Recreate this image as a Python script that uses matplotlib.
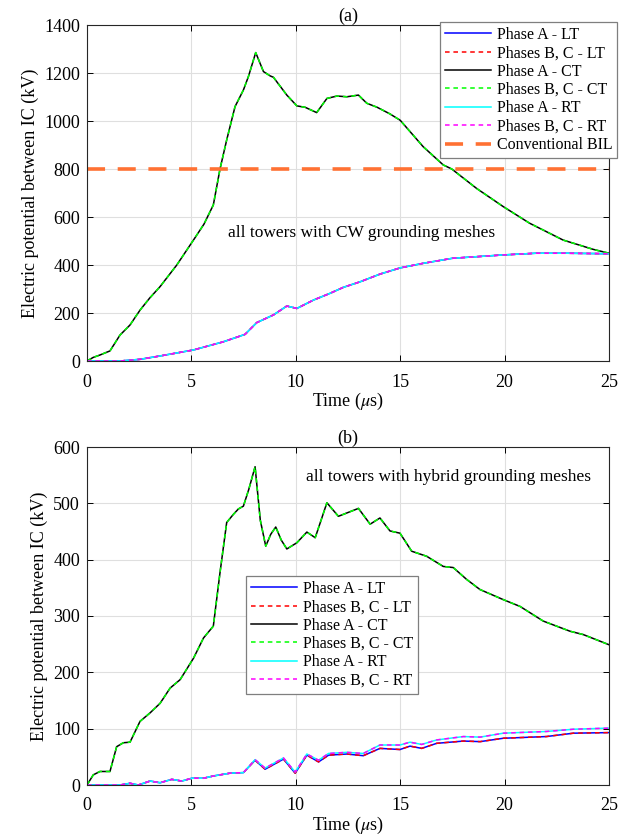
import numpy as np
import matplotlib
matplotlib.use("Agg")
import matplotlib.pyplot as plt

plt.rcParams["font.family"] = ["Liberation Serif", "DejaVu Serif"]
plt.rcParams["mathtext.fontset"] = "stix"

# (a) todas las torres con malla CW
a_ct_t = [0, 0.3, 0.62, 1.1, 1.58, 2.06, 2.54, 3.0, 3.5, 4.3, 5.1, 5.6, 6.05, 6.37, 6.69,
          7.09, 7.49, 7.73, 8.08, 8.45, 8.77, 8.93, 9.57, 10.05, 10.45, 11.0, 11.49,
          11.97, 12.45, 13.0, 13.4, 13.9, 14.5, 15.0, 16.1, 17.06, 17.47, 18.66, 19.94,
          21.2, 22.8, 24.25, 25]
a_ct_v = [0, 15, 25, 42, 108, 150, 212, 262, 310, 400, 504, 570, 650, 800, 921,
          1060, 1129, 1185, 1285, 1206, 1188, 1182, 1108, 1063, 1057, 1035, 1094,
          1104, 1101, 1108, 1074, 1057, 1030, 1003, 893, 817, 800, 719, 643,
          574, 504, 465, 449]

a_low_t = [0, 1.58, 2.54, 3.5, 5.1, 6.53, 7.57, 8.13, 8.93, 9.57, 10.05, 10.85, 11.64,
           12.28, 13.08, 14.03, 15.0, 16.1, 17.5, 19.94, 21.5, 23.0, 25]
a_low_v = [0, 0, 7, 21, 46, 80, 111, 160, 192, 229, 219, 254, 282,
           307, 330, 362, 388, 407, 428, 442, 449, 449, 447]

bil_kv = 800

# (b) todas las torres con malla hibrida
b_ct_t = [0, 0.3, 0.62, 1.1, 1.42, 1.74, 2.06, 2.54, 3.02, 3.5, 3.98, 4.46, 5.1, 5.58,
          6.05, 6.37, 6.69, 7.0, 7.25, 7.49, 7.75, 8.05, 8.3, 8.56, 8.8, 9.04, 9.3,
          9.57, 10.05, 10.53, 10.93, 11.49, 12.04, 13.0, 13.56, 14.03, 14.51, 14.99,
          15.55, 16.27, 17.06, 17.54, 18.18, 18.82, 19.94, 20.74, 21.85, 23.13, 23.77, 25]
b_ct_v = [0, 18, 24, 24, 68, 75, 76, 113, 128, 145, 172, 187, 225, 261,
          282, 377, 466, 480, 490, 495, 525, 565, 470, 424, 445, 458, 435,
          419, 430, 449, 439, 501, 477, 491, 463, 474, 451, 447,
          415, 406, 388, 386, 365, 347, 329, 317, 291, 273, 267, 249]

b_low_t = [0, 1.58, 2.06, 2.46, 3.02, 3.5, 4.06, 4.54, 5.02, 5.58, 6.05, 6.85, 7.49, 8.05,
           8.53, 9.41, 9.97, 10.53, 11.09, 11.57, 12.45, 13.23, 14.03, 14.99, 15.47,
           16.03, 16.75, 18.03, 18.83, 19.94, 22.0, 23.3, 25]
b_lt_v = [0, 0, 3, 0, 7, 4, 10, 7, 12, 12, 16, 21, 22, 44,
          28, 46, 21, 53, 41, 53, 55, 52, 65, 63, 69,
          65, 74, 78, 77, 83, 86, 92, 93]
b_rt_v = [0, 0, 3, 0, 7, 4, 10, 7, 12, 12, 16, 21, 22, 45,
          30, 48, 23, 55, 44, 56, 58, 56, 71, 71, 76,
          72, 80, 86, 85, 92, 95, 99, 101]

etiquetas = ["Phase A - LT", "Phases B, C - LT", "Phase A - CT",
             "Phases B, C - CT", "Phase A - RT", "Phases B, C - RT"]
colores = ["#0000ff", "#ff0000", "#000000", "#00ff00", "#00ffff", "#ff00ff"]
estilos = ["-", (0, (3, 2.5)), "-", (0, (3, 2.5)), "-", (0, (3, 2.5))]

fig = plt.figure(figsize=(6.33, 8.36), dpi=100)
ax1 = fig.add_axes([87 / 633, 1 - 361 / 836, 522 / 633, 336 / 836])
ax2 = fig.add_axes([87 / 633, 1 - 785 / 836, 522 / 633, 338 / 836])


def preparar_ejes(ax, ymax, paso):
    ax.set_xlim(0, 25)
    ax.set_ylim(0, ymax)
    ax.set_xticks(np.arange(0, 26, 5))
    ax.set_yticks(np.arange(0, ymax + 1, paso))
    ax.grid(True, color="#dfdfdf", linewidth=0.8)
    ax.set_axisbelow(True)
    ax.tick_params(direction="in", top=True, right=True, labelsize=13, length=4,
                   width=0.7)
    ax.tick_params(axis="x", pad=9)
    ax.tick_params(axis="y", pad=5)
    for s in ax.spines.values():
        s.set_linewidth(0.8)
        s.set_color("#262626")
    ax.set_xlabel(r"Time ($\mu$s)", fontsize=13, labelpad=0)
    ax.set_ylabel("Electric potential between IC (kV)", fontsize=13, labelpad=4)


def leyenda(ax, loc, ancla):
    leg = ax.legend(loc=loc, bbox_to_anchor=ancla, bbox_transform=fig.transFigure,
                    fontsize=11.5, fancybox=False, framealpha=1, edgecolor="#7f7f7f",
                    borderaxespad=0, handlelength=2.9, handletextpad=0.35,
                    labelspacing=0.15, borderpad=0.3)
    leg.get_frame().set_linewidth(0.9)


# grafico (a)
series_a = [(a_low_t, a_low_v), (a_low_t, a_low_v), (a_ct_t, a_ct_v),
            (a_ct_t, a_ct_v), (a_low_t, a_low_v), (a_low_t, a_low_v)]
for (t, v), lab, c, ls in zip(series_a, etiquetas, colores, estilos):
    ax1.plot(t, v, color=c, linestyle=ls, linewidth=1.1, label=lab)
ax1.axhline(bil_kv, color="#ff7133", linestyle=(0, (5, 3.5)), linewidth=2.6,
            label="Conventional BIL")
preparar_ejes(ax1, 1400, 200)
ax1.set_title("(a)", fontsize=13, pad=3)
ax1.text(6.74, 533, "all towers with CW grounding meshes", fontsize=12.5,
         va="center", ha="left")
leyenda(ax1, "upper right", (617 / 633, 1 - 22 / 836))

# grafico (b)
series_b = [(b_low_t, b_lt_v), (b_low_t, b_lt_v), (b_ct_t, b_ct_v),
            (b_ct_t, b_ct_v), (b_low_t, b_rt_v), (b_low_t, b_rt_v)]
for (t, v), lab, c, ls in zip(series_b, etiquetas, colores, estilos):
    ax2.plot(t, v, color=c, linestyle=ls, linewidth=1.1, label=lab)
preparar_ejes(ax2, 600, 100)
ax2.set_title("(b)", fontsize=13, pad=3)
ax2.text(10.47, 546, "all towers with hybrid grounding meshes", fontsize=12.5,
         va="center", ha="left")
leyenda(ax2, "upper left", (246 / 633, 1 - 576 / 836))

fig.savefig("out.png", dpi=100)
